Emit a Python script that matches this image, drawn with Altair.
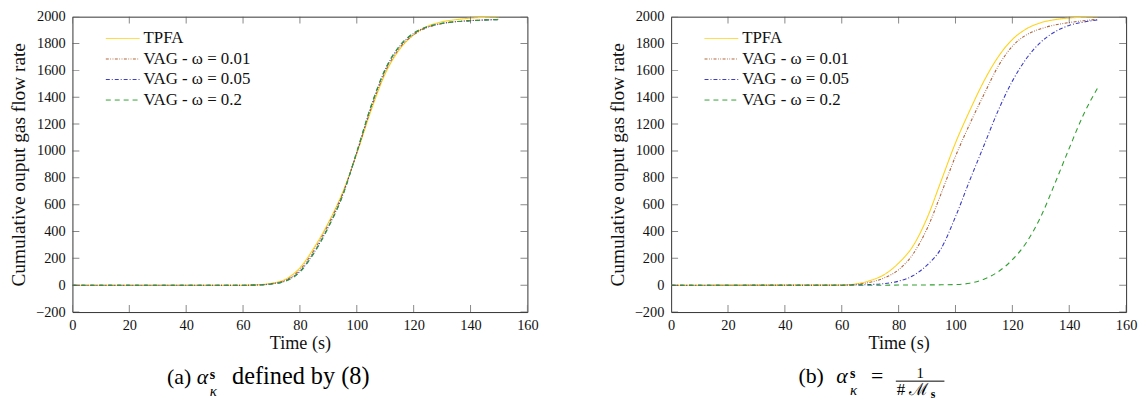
import altair as alt
import pandas as pd

# ---------------- data ----------------
T = [0, 60, 65, 70, 75, 80, 85, 90, 95, 100, 105, 110, 115, 120, 125, 130, 135, 140, 145, 150]
SERIES = ["TPFA", "VAG - ω = 0.01", "VAG - ω = 0.05", "VAG - ω = 0.2"]

# (a) alpha defined by (8)
A_TPFA = [0, 0, 3, 15, 45, 130, 280, 465, 690, 980, 1300, 1575, 1755, 1865, 1930, 1962, 1978, 1989, 1995, 2000]
A_VAG_001 = [0, 0, 2, 12, 38, 115, 262, 452, 680, 985, 1315, 1590, 1765, 1865, 1920, 1948, 1963, 1971, 1976, 1980]
A_VAG_005 = [0, 0, 1, 9, 32, 102, 245, 435, 668, 990, 1330, 1605, 1778, 1875, 1925, 1950, 1963, 1970, 1975, 1978]
A_VAG_02 = [0, 0, 1, 9, 30, 98, 240, 430, 665, 995, 1335, 1610, 1782, 1878, 1927, 1951, 1963, 1970, 1975, 1978]

# (b) alpha = 1/#M_s
B_TPFA = [0, 2, 10, 35, 80, 165, 290, 500, 780, 1060, 1300, 1520, 1700, 1830, 1910, 1955, 1978, 1990, 1996, 2000]
B_VAG_001 = [0, 1, 6, 22, 55, 115, 230, 420, 685, 960, 1200, 1420, 1630, 1780, 1865, 1910, 1938, 1956, 1970, 1980]
B_VAG_005 = [0, 0, 2, 5, 12, 30, 70, 150, 275, 510, 780, 1040, 1300, 1520, 1690, 1810, 1888, 1935, 1960, 1975]
B_VAG_02 = [0, 0, 0, 0, 0, 1, 1, 2, 3, 5, 15, 45, 100, 190, 320, 510, 760, 1020, 1270, 1470]

X_TICKS = [0, 20, 40, 60, 80, 100, 120, 140, 160]
Y_TICKS = [-200, 0, 200, 400, 600, 800, 1000, 1200, 1400, 1600, 1800, 2000]

X_TITLE = "Time (s)"
Y_TITLE = "Cumulative ouput gas flow rate"

# ---------------- styles ----------------
FONT = "Liberation Serif, DejaVu Serif, serif"
COLORS = ["#FFD21A", "#B0643A", "#3B3BC4", "#30A030"]
DASHES = [[1, 0], [3, 1.5, 0.8, 1.5, 0.8, 1.5], [4, 2, 1, 2], [5, 4]]
W, H = 459, 298


def long_df(series_values):
    rows = []
    for name, vals in zip(SERIES, series_values):
        for t, v in zip(T, vals):
            rows.append({"t": t, "v": v, "s": name})
    return pd.DataFrame(rows)


def text_layer(txt, x, y, size, align="left", weight="normal", style="normal"):
    return alt.Chart(pd.DataFrame({"k": [0]})).mark_text(
        text=txt, align=align, baseline="alphabetic", font=FONT, fontSize=size,
        fontWeight=weight, fontStyle=style, color="#000"
    ).encode(x=alt.value(x), y=alt.value(y))


def panel(series_values, caption):
    xs = alt.Scale(domain=[X_TICKS[0], X_TICKS[-1]], nice=False, zero=False)
    ys = alt.Scale(domain=[Y_TICKS[0], Y_TICKS[-1]], nice=False, zero=False)
    xa = alt.Axis(values=X_TICKS, title=X_TITLE, grid=False, domain=False, ticks=False,
                  tickSize=0, labelPadding=6.8, titlePadding=2, labelFont=FONT,
                  labelFontSize=14.5, titleFont=FONT, titleFontSize=18.3,
                  titleFontWeight="normal", labelColor="#111", titleColor="#111",
                  labelFlush=False, labelOverlap=False, format="d")
    ya = alt.Axis(values=Y_TICKS, title=Y_TITLE, grid=False, domain=False, ticks=False,
                  tickSize=0, labelPadding=7.3, titlePadding=7, labelFont=FONT,
                  labelFontSize=14.5, titleFont=FONT, titleFontSize=19.5,
                  titleFontWeight="normal", labelColor="#111", titleColor="#111",
                  labelFlush=False, labelOverlap=False, format="d")
    X = alt.X("t:Q", scale=xs, axis=xa)
    Y = alt.Y("v:Q", scale=ys, axis=ya)

    leg = alt.Legend(title=None, orient="none", legendX=41.7, legendY=13,
                     symbolType="M-2,0H2", symbolSize=289, symbolStrokeWidth=1,
                     labelOffset=12, rowPadding=3.7, padding=0, labelFont=FONT,
                     labelFontSize=17, labelColor="#111", labelLimit=300)

    lines = alt.Chart(long_df(series_values)).mark_line(
        strokeWidth=1.1, interpolate="monotone", clip=True
    ).encode(
        x=X, y=Y,
        color=alt.Color("s:N", scale=alt.Scale(domain=SERIES, range=COLORS), legend=leg),
        strokeDash=alt.StrokeDash("s:N", scale=alt.Scale(domain=SERIES, range=DASHES), legend=leg),
    )

    xt = pd.DataFrame({"t": X_TICKS * 2,
                       "v": [Y_TICKS[0]] * len(X_TICKS) + [Y_TICKS[-1]] * len(X_TICKS)})
    yt = pd.DataFrame({"t": [X_TICKS[0]] * len(Y_TICKS) + [X_TICKS[-1]] * len(Y_TICKS),
                       "v": Y_TICKS * 2})
    xticks = alt.Chart(xt).mark_tick(orient="vertical", size=14, thickness=1,
                                     color="#555", clip=True).encode(x=X, y=Y)
    yticks = alt.Chart(yt).mark_tick(orient="horizontal", size=14, thickness=1,
                                     color="#555", clip=True).encode(x=X, y=Y)

    return alt.layer(lines, xticks, yticks, *caption).properties(width=W, height=H)


cap_a = [
    text_layer("(a)", 95.5, 371, 22),
    text_layer("α", 125.5, 371, 22, style="italic"),
    text_layer("s", 138.5, 366, 14, weight="bold"),
    text_layer("κ", 138.5, 383, 15, style="italic"),
    text_layer("defined by (8)", 161, 371, 24.5),
]

cap_b = [
    text_layer("(b)", 128.4, 370, 22),
    text_layer("α", 166.7, 370, 22, style="italic"),
    text_layer("s", 180.5, 365, 14, weight="bold"),
    text_layer("κ", 180.5, 382, 15, style="italic"),
    text_layer("=", 201.7, 370, 22),
    alt.Chart(pd.DataFrame({"k": [0]})).mark_rule(color="#000", strokeWidth=1).encode(
        x=alt.value(226.7), x2=alt.value(275.7), y=alt.value(367.7)),
    text_layer("1", 251.2, 364.5, 15, align="center"),
    text_layer("#", 227.7, 382, 17),
    text_layer("ℳ", 239.5, 382, 17),
    text_layer("s", 262, 385, 12, weight="bold"),
]

left = panel([A_TPFA, A_VAG_001, A_VAG_005, A_VAG_02], cap_a)
right = panel([B_TPFA, B_VAG_001, B_VAG_005, B_VAG_02], cap_b)

chart = alt.hconcat(left, right, spacing=68).resolve_scale(
    color="independent", strokeDash="independent"
).properties(
    padding={"left": 0, "top": -2, "right": 0, "bottom": 0}
).configure_view(stroke="#333", strokeWidth=1)

chart.save("out.html", embed_options={"renderer": "svg", "actions": False})
